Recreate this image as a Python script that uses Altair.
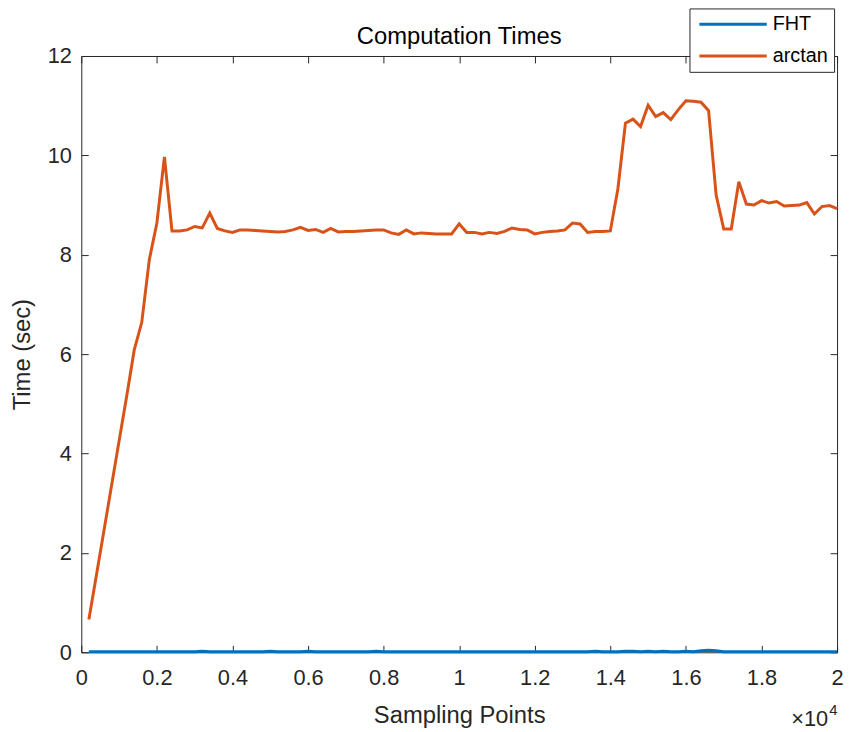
import altair as alt
import pandas as pd

sampling_points = [
    200, 400, 600, 800, 1000, 1200, 1400, 1600, 1800, 2000,
    2200, 2400, 2600, 2800, 3000, 3200, 3400, 3600, 3800, 4000,
    4200, 4400, 4600, 4800, 5000, 5200, 5400, 5600, 5800, 6000,
    6200, 6400, 6600, 6800, 7000, 7200, 7400, 7600, 7800, 8000,
    8200, 8400, 8600, 8800, 9000, 9200, 9400, 9600, 9800, 10000,
    10200, 10400, 10600, 10800, 11000, 11200, 11400, 11600, 11800, 12000,
    12200, 12400, 12600, 12800, 13000, 13200, 13400, 13600, 13800, 14000,
    14200, 14400, 14600, 14800, 15000, 15200, 15400, 15600, 15800, 16000,
    16200, 16400, 16600, 16800, 17000, 17200, 17400, 17600, 17800, 18000,
    18200, 18400, 18600, 18800, 19000, 19200, 19400, 19600, 19800, 20000,
]

arctan_times = [
    0.66, 1.55, 2.45, 3.35, 4.25, 5.15, 6.08, 6.64, 7.90, 8.64,
    9.97, 8.48, 8.48, 8.50, 8.57, 8.54, 8.84, 8.53, 8.48, 8.45,
    8.50, 8.50, 8.49, 8.48, 8.47, 8.46, 8.47, 8.50, 8.55, 8.49,
    8.51, 8.45, 8.53, 8.46, 8.47, 8.47, 8.48, 8.49, 8.50, 8.50,
    8.44, 8.41, 8.50, 8.42, 8.44, 8.43, 8.42, 8.42, 8.42, 8.62,
    8.45, 8.45, 8.42, 8.45, 8.43, 8.47, 8.54, 8.51, 8.50, 8.42,
    8.45, 8.47, 8.48, 8.50, 8.64, 8.62, 8.45, 8.47, 8.47, 8.48,
    9.33, 10.65, 10.73, 10.58, 11.01, 10.78, 10.86, 10.72, 10.92, 11.10,
    11.09, 11.07, 10.90, 9.20, 8.52, 8.52, 9.47, 9.02, 9.00, 9.09,
    9.04, 9.07, 8.98, 8.99, 9.00, 9.05, 8.82, 8.97, 8.99, 8.93,
]

fht_times = [
    0.01, 0.01, 0.01, 0.01, 0.01, 0.01, 0.01, 0.01, 0.01, 0.01,
    0.01, 0.01, 0.01, 0.01, 0.01, 0.02, 0.01, 0.01, 0.01, 0.01,
    0.01, 0.01, 0.01, 0.01, 0.02, 0.01, 0.01, 0.01, 0.01, 0.02,
    0.01, 0.01, 0.01, 0.01, 0.01, 0.01, 0.01, 0.01, 0.02, 0.01,
    0.01, 0.01, 0.01, 0.01, 0.01, 0.01, 0.01, 0.01, 0.01, 0.01,
    0.01, 0.01, 0.01, 0.01, 0.01, 0.01, 0.01, 0.01, 0.01, 0.01,
    0.01, 0.01, 0.01, 0.01, 0.01, 0.01, 0.01, 0.02, 0.01, 0.01,
    0.01, 0.02, 0.02, 0.01, 0.02, 0.01, 0.02, 0.01, 0.01, 0.02,
    0.01, 0.03, 0.04, 0.03, 0.01, 0.01, 0.01, 0.01, 0.01, 0.01,
    0.01, 0.01, 0.01, 0.01, 0.01, 0.01, 0.01, 0.01, 0.01, 0.01,
]

series_names = ["FHT", "arctan"]
series_colors = ["#0072BD", "#D95319"]
x_ticks = [0, 2000, 4000, 6000, 8000, 10000, 12000, 14000, 16000, 18000, 20000]
y_ticks = [0, 2, 4, 6, 8, 10, 12]
chart_title = "Computation Times"

fht_df = pd.DataFrame({"x": sampling_points, "t": fht_times, "series": "FHT"})
arc_df = pd.DataFrame({"x": sampling_points, "t": arctan_times, "series": "arctan"})

FONT = "Liberation Sans"
TXT = "#262626"
TICK = 7
LW = 3

xscale = alt.Scale(domain=[0, 20000], nice=False)
yscale = alt.Scale(domain=[0, 12], nice=False)
color = alt.Color(
    "series:N",
    scale=alt.Scale(domain=series_names, range=series_colors),
    legend=alt.Legend(
        title=None,
        orient="none",
        legendX=614,
        legendY=-48,
        strokeColor="#262626",
        fillColor="white",
        padding=6,
        symbolType="M-4,0H4",
        symbolSize=289,
        symbolStrokeWidth=LW,
        symbolOffset=28,
        labelOffset=30,
        labelFont=FONT,
        labelFontSize=20,
        labelColor="#000000",
        rowPadding=12,
    ),
)

label_expr = "format(datum.value / 10000, '~g')"

fht_layer = alt.Chart(fht_df).mark_line(strokeWidth=LW).encode(
    x=alt.X(
        "x:Q",
        scale=xscale,
        axis=alt.Axis(
            orient="bottom", values=x_ticks, labelExpr=label_expr,
            offset=-TICK, tickSize=TICK, domain=False, grid=False,
            labelFlush=False, labelPadding=16, title="Sampling Points",
            titlePadding=15,
        ),
    ),
    y=alt.Y(
        "t:Q",
        scale=yscale,
        axis=alt.Axis(
            orient="left", values=y_ticks, offset=-TICK, tickSize=TICK,
            domain=False, grid=False, labelPadding=10, title="Time (sec)",
            titlePadding=13,
        ),
    ),
    color=color,
)

arc_layer = alt.Chart(arc_df).mark_line(strokeWidth=LW).encode(
    x=alt.X(
        "x:Q",
        scale=xscale,
        axis=alt.Axis(
            orient="top", values=x_ticks, offset=-TICK, tickSize=TICK,
            domain=False, grid=False, labels=False, title=None,
        ),
    ),
    y=alt.Y(
        "t:Q",
        scale=yscale,
        axis=alt.Axis(
            orient="right", values=y_ticks, offset=-TICK, tickSize=TICK,
            domain=False, grid=False, labels=False, title=None,
        ),
    ),
    color=color,
)

one = pd.DataFrame({"k": [0]})
title_text = alt.Chart(one).mark_text(
    text=chart_title, font=FONT, fontSize=24, color="#000000",
    align="center", baseline="alphabetic",
).encode(x=alt.value(381.5), y=alt.value(-12))
times_ten = alt.Chart(one).mark_text(
    text="×10", font=FONT, fontSize=22, color=TXT, align="right", baseline="alphabetic"
).encode(x=alt.value(754), y=alt.value(676))
exponent = alt.Chart(one).mark_text(
    text="4", font=FONT, fontSize=15, color=TXT, align="left", baseline="alphabetic"
).encode(x=alt.value(755), y=alt.value(665))

chart = (
    alt.layer(fht_layer, arc_layer, title_text, times_ten, exponent)
    .resolve_axis(x="independent", y="independent")
    .properties(
        width=763,
        height=602,
        autosize=alt.AutoSizeParams(type="none"),
        padding={"left": 74, "top": 45, "right": 7, "bottom": 75},
        background="white",
    )
    .configure_view(stroke=TXT, strokeWidth=1)
    .configure_axis(
        labelFont=FONT, labelFontSize=22, labelColor=TXT,
        titleFont=FONT, titleFontSize=24, titleColor=TXT, titleFontWeight="normal",
        tickColor=TXT, tickWidth=1,
    )
)

chart.save("out.html", embed_options={"renderer": "svg", "actions": False})
